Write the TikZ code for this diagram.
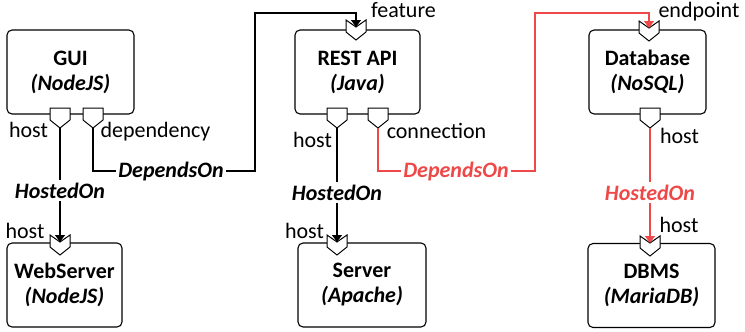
\documentclass[tikz,border=0pt]{standalone}
\usepackage{fontspec}
\setmainfont{Carlito}
\usetikzlibrary{arrows.meta,calc}
\definecolor{relred}{RGB}{238,72,72}

\tikzset{
  box/.style={draw,line width=1.1pt,rounded corners=5pt,align=center,minimum height=84pt,inner sep=0pt,font=\fontsize{22}{25}\selectfont\bfseries},
  port/.style={minimum width=20pt,minimum height=20pt,inner sep=0pt,outer sep=0pt},
  portline/.style={draw,fill=white,line width=1pt,line join=miter},
  conn/.style={line width=1.1pt},
  lbl/.style={inner sep=0pt,anchor=base,font=\fontsize{22}{25}\selectfont},
  rel/.style={inner sep=2.5pt,anchor=base,font=\fontsize{22}{25}\selectfont\bfseries\itshape},
}

% port with a point at the bottom (capability side)
\newcommand\outport[2]{%
  \node[port] (#1) at (#2) {};
  \draw[portline] (#1.north west) -- (#1.north east) -- ($(#1.east)+(0,2)$) -- (#1.south) -- ($(#1.west)+(0,2)$) -- cycle;}
% port with a notch on top (requirement side)
\newcommand\inport[2]{%
  \node[port] (#1) at (#2) {};
  \draw[portline] (#1.north west) -- ($(#1.north)+(0,7)$) -- (#1.north east) -- ($(#1.east)+(0,2)$) -- (#1.south) -- ($(#1.west)+(0,2)$) -- cycle;
  \coordinate (#1-in) at ($(#1.north)+(0,7)$);}

\begin{document}
\begin{tikzpicture}[x=1pt,y=-1pt,>={Triangle[length=7pt,width=10pt]}]
\useasboundingbox (0,0) rectangle (745,332);

% components
\node[box,minimum width=127pt] (gui) at (70.5,72) {GUI\\\textit{(NodeJS)}};
\node[box,minimum width=125pt] (rest) at (357.5,72) {REST API\\\textit{(Java)}};
\node[box,minimum width=117pt] (db) at (647.5,72) {Database\\\textit{(NoSQL)}};
\node[box,minimum width=115pt] (web) at (64.5,285) {WebServer\\\textit{(NodeJS)}};
\node[box,minimum width=128pt] (server) at (362,285) {Server\\\textit{(Apache)}};
\node[box,minimum width=127pt] (dbms) at (651.5,285.5) {DBMS\\\textit{(MariaDB)}};

% ports
\outport{guihost}{60,118}
\outport{guidep}{93,118}
\outport{resthost}{337,118}
\outport{restconn}{378,118}
\outport{dbhost}{650,118}
\inport{restfeat}{356,30}
\inport{dbend}{649,31}
\inport{webhost}{60,245}
\inport{serverhost}{337,245}
\inport{dbmshost}{650,246}

% port names
\node[lbl] at (28.5,137) {host};
\node[lbl] at (155.5,137) {dependency};
\node[lbl] at (403.5,17) {feature};
\node[lbl] at (312.5,147) {host};
\node[lbl] at (436.5,138) {connection};
\node[lbl] at (699,17) {endpoint};
\node[lbl] at (679.5,143) {host};
\node[lbl] at (25,238) {host};
\node[lbl] at (304.5,238) {host};
\node[lbl] at (679,232) {host};

% relationships
\node[rel] (hon1) at (60,198) {HostedOn};
\node[rel] (hon2) at (337,200) {HostedOn};
\node[rel,text=relred] (hon3) at (650,200) {HostedOn};
\node[rel] (dep1) at (171,177) {DependsOn};
\node[rel,text=relred] (dep2) at (456,177) {DependsOn};
\coordinate (bend1) at (255,13);
\coordinate (bend2) at (535,13);

\draw[conn] (guihost.south) -- (hon1);
\draw[conn,->] (hon1) -- (webhost-in);
\draw[conn] (resthost.south) -- (hon2);
\draw[conn,->] (hon2) -- (serverhost-in);
\draw[conn,relred] (dbhost.south) -- (hon3);
\draw[conn,relred,->] (hon3) -- (dbmshost-in);
\draw[conn] (guidep.south) |- (dep1.west);
\draw[conn,->] (dep1.east) -| (bend1) -| (restfeat-in);
\draw[conn,relred] (restconn.south) |- (dep2.west);
\draw[conn,relred,->] (dep2.east) -| (bend2) -| (dbend-in);
\end{tikzpicture}
\end{document}
